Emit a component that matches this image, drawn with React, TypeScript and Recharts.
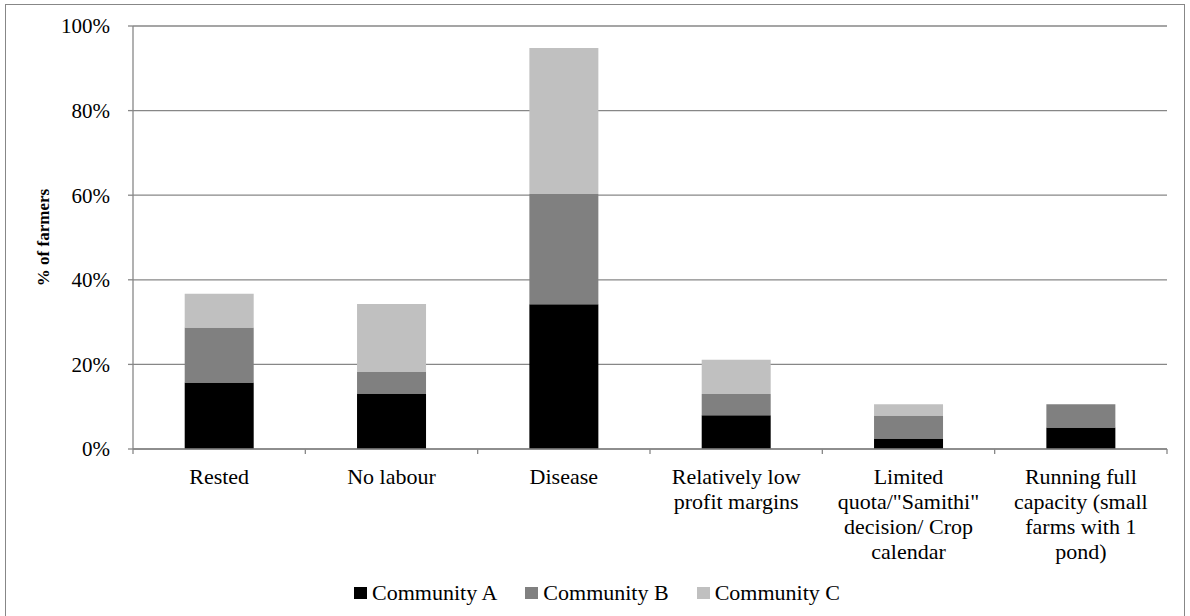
import { Bar, BarChart, CartesianGrid, Legend, XAxis, YAxis } from "recharts"

const categories = [
  "Rested",
  "No labour",
  "Disease",
  "Relatively low\nprofit margins",
  'Limited\nquota/"Samithi"\ndecision/ Crop\ncalendar',
  "Running full\ncapacity (small\nfarms with 1\npond)",
]
const communityA = [15.7, 13.1, 34.2, 8.0, 2.5, 5.1]
const communityB = [13.0, 5.1, 26.1, 5.0, 5.4, 5.5]
const communityC = [8.0, 16.1, 34.5, 8.1, 2.7, 0]
const yTicks = [0, 20, 40, 60, 80, 100]

const seriesNames = ["Community A", "Community B", "Community C"]
const seriesColors = ["#000000", "#808080", "#c0c0c0"]

const FONT = '"Liberation Serif", "Times New Roman", serif'
const GRID = "#878787"

const data = categories.map((category, i) => ({
  category,
  a: communityA[i],
  b: communityB[i],
  c: communityC[i],
}))

// Excel draws the x tick marks between categories, so the tick draws its own
// marks half a band to either side of the label
const CategoryTick = ({
  x = 0,
  y = 0,
  width = 0,
  index = 0,
  visibleTicksCount = 1,
  payload,
}: {
  x?: number
  y?: number
  width?: number
  index?: number
  visibleTicksCount?: number
  payload?: { value: string; offset?: number }
}) => {
  const lines = String(payload?.value ?? "").split("\n")
  const half = payload?.offset || width / visibleTicksCount / 2
  return (
    <g>
      <line x1={x - half} x2={x - half} y1={y} y2={y + 5} stroke={GRID} strokeWidth={1.3} />
      {index === visibleTicksCount - 1 && (
        <line x1={x + half} x2={x + half} y1={y} y2={y + 5} stroke={GRID} strokeWidth={1.3} />
      )}
      <text x={x} y={y} textAnchor="middle" fontFamily={FONT} fontSize={22} fill="#000">
        {lines.map((line, i) => (
          <tspan key={i} x={x} dy={i === 0 ? 35 : 25}>
            {line}
          </tspan>
        ))}
      </text>
    </g>
  )
}

const YTitle = ({ viewBox }: { viewBox?: { x: number; y: number; height: number } }) => {
  if (!viewBox) return null
  const cx = 43
  const cy = viewBox.y + viewBox.height / 2
  return (
    <text
      x={cx}
      y={cy}
      transform={`rotate(-90 ${cx} ${cy})`}
      textAnchor="middle"
      dominantBaseline="central"
      fontFamily={FONT}
      fontSize={17}
      fontWeight="bold"
      fill="#000"
    >
      % of farmers
    </text>
  )
}

const LegendBox = () => (
  <div
    style={{
      display: "flex",
      justifyContent: "center",
      alignItems: "center",
      gap: 28,
      fontFamily: FONT,
      fontSize: 22,
      color: "#000",
      paddingLeft: 4,
    }}
  >
    {seriesNames.map((name, i) => (
      <div key={name} style={{ display: "flex", alignItems: "center" }}>
        <span
          style={{
            display: "inline-block",
            width: 13,
            height: 12,
            background: seriesColors[i],
            marginRight: 5,
          }}
        />
        <span>{name}</span>
      </div>
    ))}
  </div>
)

export default function App() {
  return (
    <div
      style={{
        position: "absolute",
        left: 0,
        top: 0,
        width: 1190,
        height: 616,
        overflow: "hidden",
        background: "#fff",
      }}
    >
      <div
        style={{
          position: "absolute",
          left: 5,
          top: 4,
          width: 1178,
          height: 700,
          border: `1px solid ${GRID}`,
        }}
      />
      <div style={{ position: "absolute", left: 0, top: 0 }}>
        <BarChart
          width={1190}
          height={616}
          data={data}
          margin={{ top: 26, right: 23, bottom: 166, left: 0 }}
          barCategoryGap="30%"
        >
          <CartesianGrid vertical={false} stroke={GRID} strokeWidth={1.3} />
          <XAxis
            dataKey="category"
            interval={0}
            height={1}
            tickSize={0}
            tickMargin={0}
            tickLine={false}
            axisLine={{ stroke: GRID, strokeWidth: 1.3 }}
            tick={<CategoryTick />}
          />
          <YAxis
            width={133}
            domain={[0, 100]}
            ticks={yTicks}
            tickFormatter={(v: number) => `${v}%`}
            tickSize={5}
            tickMargin={18}
            axisLine={{ stroke: GRID, strokeWidth: 1.3 }}
            tickLine={{ stroke: GRID, strokeWidth: 1.3 }}
            tick={{ fontFamily: FONT, fontSize: 21, fill: "#000" }}
            label={<YTitle />}
          />
          <Legend
            verticalAlign="middle"
            align="center"
            wrapperStyle={{ top: 580, left: 0, width: 1190 }}
            content={<LegendBox />}
          />
          <Bar dataKey="a" name={seriesNames[0]} stackId="s" fill={seriesColors[0]} isAnimationActive={false} />
          <Bar dataKey="b" name={seriesNames[1]} stackId="s" fill={seriesColors[1]} isAnimationActive={false} />
          <Bar dataKey="c" name={seriesNames[2]} stackId="s" fill={seriesColors[2]} isAnimationActive={false} />
        </BarChart>
      </div>
    </div>
  )
}
